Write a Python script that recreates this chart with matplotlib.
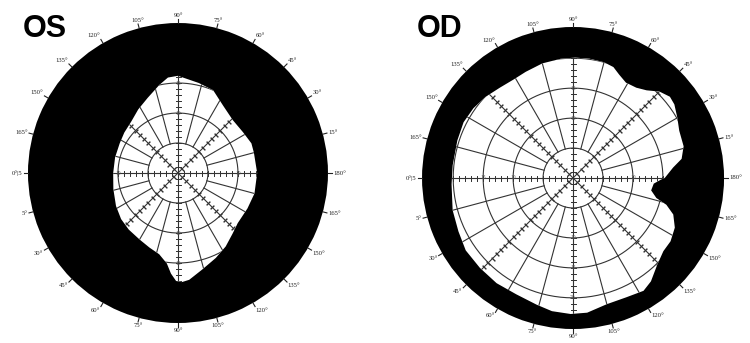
import numpy as np
import matplotlib.pyplot as plt

# seen field, left eye (OS): polar angle in degrees, edge radius in chart units
os_angle = [0, 15, 22, 32, 44, 56, 67, 77, 90, 96, 102, 112, 122, 132, 143, 153, 166,
            180, 194, 208, 219, 229, 240, 249, 257, 263, 266, 269, 272, 276, 284, 294,
            303, 312, 320, 333, 345]
os_radius = [13.2, 13.1, 13.2, 12.8, 12.7, 13.5, 15.0, 15.4, 16.2, 16.0, 15.0, 13.5, 12.5,
             11.6, 11.2, 10.9, 10.8, 10.8, 11.1, 11.7, 12.2, 12.5, 12.8, 13.3, 13.9, 15.2,
             16.8, 18.0, 18.2, 17.9, 16.6, 15.5, 14.6, 13.6, 13.0, 13.0, 13.2]

# seen field, right eye (OD)
od_angle = [0, 6, 10, 16, 24, 30, 36, 40, 45, 50, 55, 61, 66, 70, 75, 82, 89, 96, 105,
            114, 121, 129, 137, 145, 153, 162, 174, 183, 195, 205, 214, 224, 234, 244,
            254, 261, 269, 276, 285, 294, 302, 307, 314, 321, 327, 334, 340, 344, 346.5,
            351, 356, 359]
od_radius = [15.3, 16.8, 18.4, 19.2, 19.4, 20.1, 20.9, 21.1, 20.4, 19.1, 18.4, 18.2, 18.9,
             19.7, 20.0, 20.1, 20.1, 20.0, 19.8, 19.4, 19.2, 19.4, 19.9, 20.3, 20.5, 20.3,
             20.2, 20.3, 20.8, 21.1, 21.6, 21.6, 21.7, 21.6, 22.0, 22.5, 22.7, 22.6, 21.8,
             21.8, 22.2, 21.6, 20.2, 19.4, 19.4, 18.9, 17.8, 16.2, 14.3, 13.2, 13.5, 14.7]

isopters = [5, 10, 15, 20]
scale_labels = ["5", "10", "15", "20"]
rim_angles = list(range(0, 360, 15))
rim_labels = ["180°", "15°", "30°", "45°", "60°", "75°", "90°", "105°", "120°", "135°",
              "150°", "165°", "0°|5", "5°", "30°", "45°", "60°", "75°", "90°", "105°",
              "120°", "135°", "150°", "165°"]

GRID = "#333333"

fig = plt.figure(figsize=(7.5, 3.43), dpi=100)


def field_chart(rect, angle, radius, rmax, eye, eye_x):
    ax = fig.add_axes(rect, projection="polar")
    ax.set_ylim(0, rmax)
    ax.set_facecolor("black")
    ax.grid(False)
    ax.set_xticks([])
    ax.set_yticks([])
    ax.spines["polar"].set_visible(False)

    field = ax.fill(np.deg2rad(angle), radius, color="white", lw=0, zorder=1)[0]

    arts = []
    full = np.linspace(0, 2 * np.pi, 361)
    for r in isopters:
        arts += ax.plot(full, np.full_like(full, r), color=GRID, lw=0.8, zorder=2)
    for a in range(0, 360, 15):
        t = np.deg2rad(a)
        r0 = 0 if a % 45 == 0 else isopters[0]
        arts += ax.plot([t, t], [r0, rmax], color=GRID, lw=0.8, zorder=2)
    steps = np.arange(1, 25)
    for a in range(0, 360, 45):
        arts += ax.plot(np.full(len(steps), np.deg2rad(a)), steps, ls="none",
                        marker=(2, 2, a), ms=3.6, mec=GRID, mew=0.7, zorder=2)
    for art in arts:
        art.set_clip_path(field)

    # small scale numbers on the main meridians, only where the field is seen
    for a in (0, 90, 180, 270):
        edge = np.interp(a, angle, radius, period=360)
        for r, s in zip(isopters[1:], scale_labels[1:]):
            if r < edge - 0.6:
                ax.text(np.deg2rad(a), r, s, fontsize=4, color="#555",
                        family="Liberation Serif", ha="center", va="center", zorder=3)

    # rim ticks and degree labels
    for a, s in zip(rim_angles, rim_labels):
        t = np.deg2rad(a)
        ax.plot([t, t], [rmax, rmax + 0.7], color="#222", lw=0.8, clip_on=False)
        c, sn = np.cos(t), np.sin(t)
        ha = "left" if c > 0.3 else "right" if c < -0.3 else "center"
        va = "bottom" if sn > 0.3 else "top" if sn < -0.3 else "center"
        ax.text(t, rmax + 0.9, s, ha=ha, va=va, fontsize=4.8,
                family="Liberation Serif", color="#222", clip_on=False)

    fig.text(eye_x, 0.892, eye, fontsize=22, family="Liberation Sans",
             fontweight="bold", ha="left", va="baseline")
    return ax


field_chart([0.0373, 0.0583, 0.4, 0.8746], os_angle, os_radius, 25, "OS", 0.031)
field_chart([0.5627, 0.0408, 0.4027, 0.8805], od_angle, od_radius, 25.2, "OD", 0.555)

fig.savefig("out.png", dpi=100, facecolor="white")
